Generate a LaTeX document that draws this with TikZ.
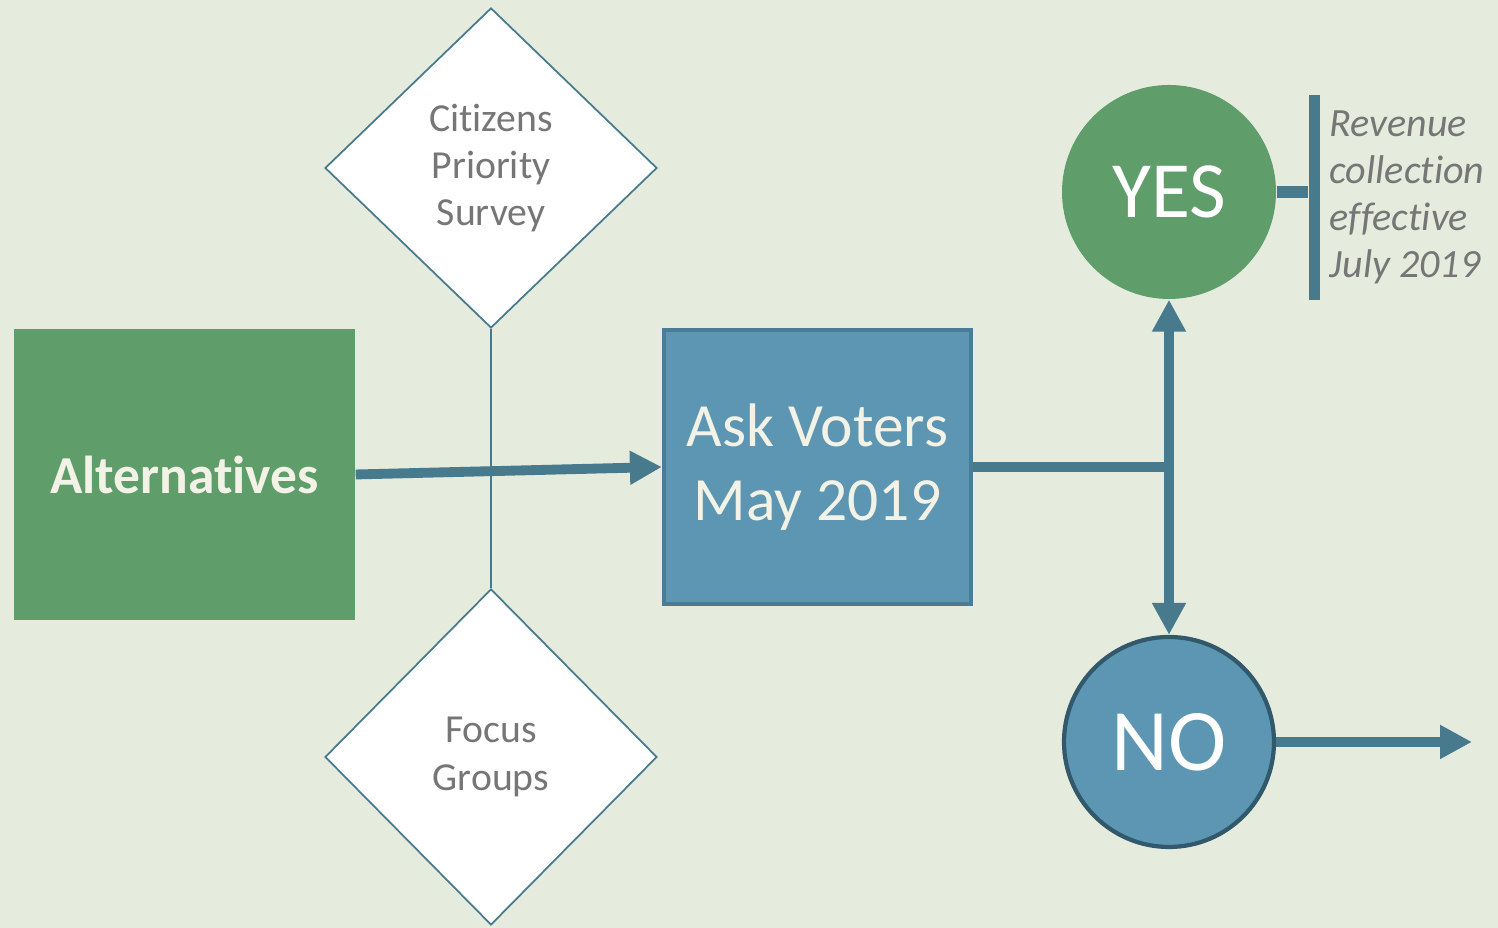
\documentclass[tikz,border=0pt]{standalone}
\usepackage{fontspec}
\setmainfont{Carlito}[RawFeature={-liga;-clig;-dlig;-calt}]
\usepackage{xcolor}
\usetikzlibrary{calc,arrows.meta,positioning,shapes.geometric}
\definecolor{paperGreen}{RGB}{229,236,222}
\definecolor{altGreen}{RGB}{95,157,106}
\definecolor{voteBlue}{RGB}{93,150,178}
\definecolor{voteEdge}{RGB}{74,124,149}
\definecolor{flowTeal}{RGB}{72,122,142}
\definecolor{noEdge}{RGB}{50,88,108}
\definecolor{noteGray}{RGB}{118,118,118}
\definecolor{creamText}{RGB}{242,242,230}
\tikzset{
  inputDiamond/.style={diamond,draw=flowTeal,fill=white,line width=0.5pt,inner sep=0pt,
    minimum width=3.32cm,align=center,text=noteGray,font=\fontsize{11.3}{13.4}\selectfont},
  flowArrow/.style={draw=flowTeal,line width=2.8pt,-{Triangle[width=0.32cm,length=0.32cm]}},
}
\begin{document}
\begin{tikzpicture}
\useasboundingbox (0,0) rectangle (14.98,9.28);
\fill[paperGreen] (0,0) rectangle (14.98,9.28);
% main boxes
\node[fill=altGreen,minimum width=3.41cm,minimum height=2.91cm,inner sep=0pt,
  font=\bfseries\fontsize{15.2}{18}\selectfont,text=creamText] (alt) at (1.845,4.535) {Alternatives};
\node[fill=voteBlue,draw=voteEdge,line width=1.2pt,minimum width=3.07cm,minimum height=2.74cm,inner sep=0pt,
  align=center,font=\fontsize{17.5}{21}\selectfont,text=creamText] (vote) at (8.175,4.61) {Ask Voters\\May 2019};
% survey and focus groups
\node[inputDiamond,minimum height=3.2cm] (survey) at (4.91,7.60) {Citizens\\Priority\\Survey};
\node[inputDiamond,minimum height=3.36cm] (focus) at (4.91,1.71) {Focus\\Groups};
\draw[flowTeal,line width=0.7pt] (survey.south) -- (focus.north);
% outcomes
\node[circle,fill=altGreen,minimum size=2.14cm,inner sep=0pt,
  font=\fontsize{22.7}{24}\selectfont,text=white] (yes) at (11.69,7.36) {YES};
\node[circle,fill=voteBlue,draw=noEdge,line width=1.2pt,minimum size=2.10cm,inner sep=0pt,
  font=\fontsize{25}{27}\selectfont,text=white] (no) at (11.69,1.86) {NO};
\node[fill=flowTeal,minimum width=0.11cm,minimum height=2.05cm,inner sep=0pt] (bar) at (13.14,7.305) {};
\node[right=-0.03cm of bar,align=left,text=noteGray,font=\itshape\fontsize{11.4}{13.4}\selectfont] (note)
  {Revenue\\collection\\effective\\July 2019};
\coordinate (jn) at (yes.south |- vote.east);
\coordinate (out) at (14.72,1.86);
% connectors
\draw[flowArrow] (alt.east) -- (vote.west);
\draw[flowTeal,line width=2.8pt] (vote.east) -- ([xshift=1.4pt]jn);
\draw[flowArrow] (jn) -- (yes.south);
\draw[flowArrow] (jn) -- (no.north);
\draw[flowTeal,line width=3.6pt] (yes.east) -- (yes.east -| bar.west);
\draw[flowArrow] (no.east) -- (out);
\end{tikzpicture}
\end{document}
